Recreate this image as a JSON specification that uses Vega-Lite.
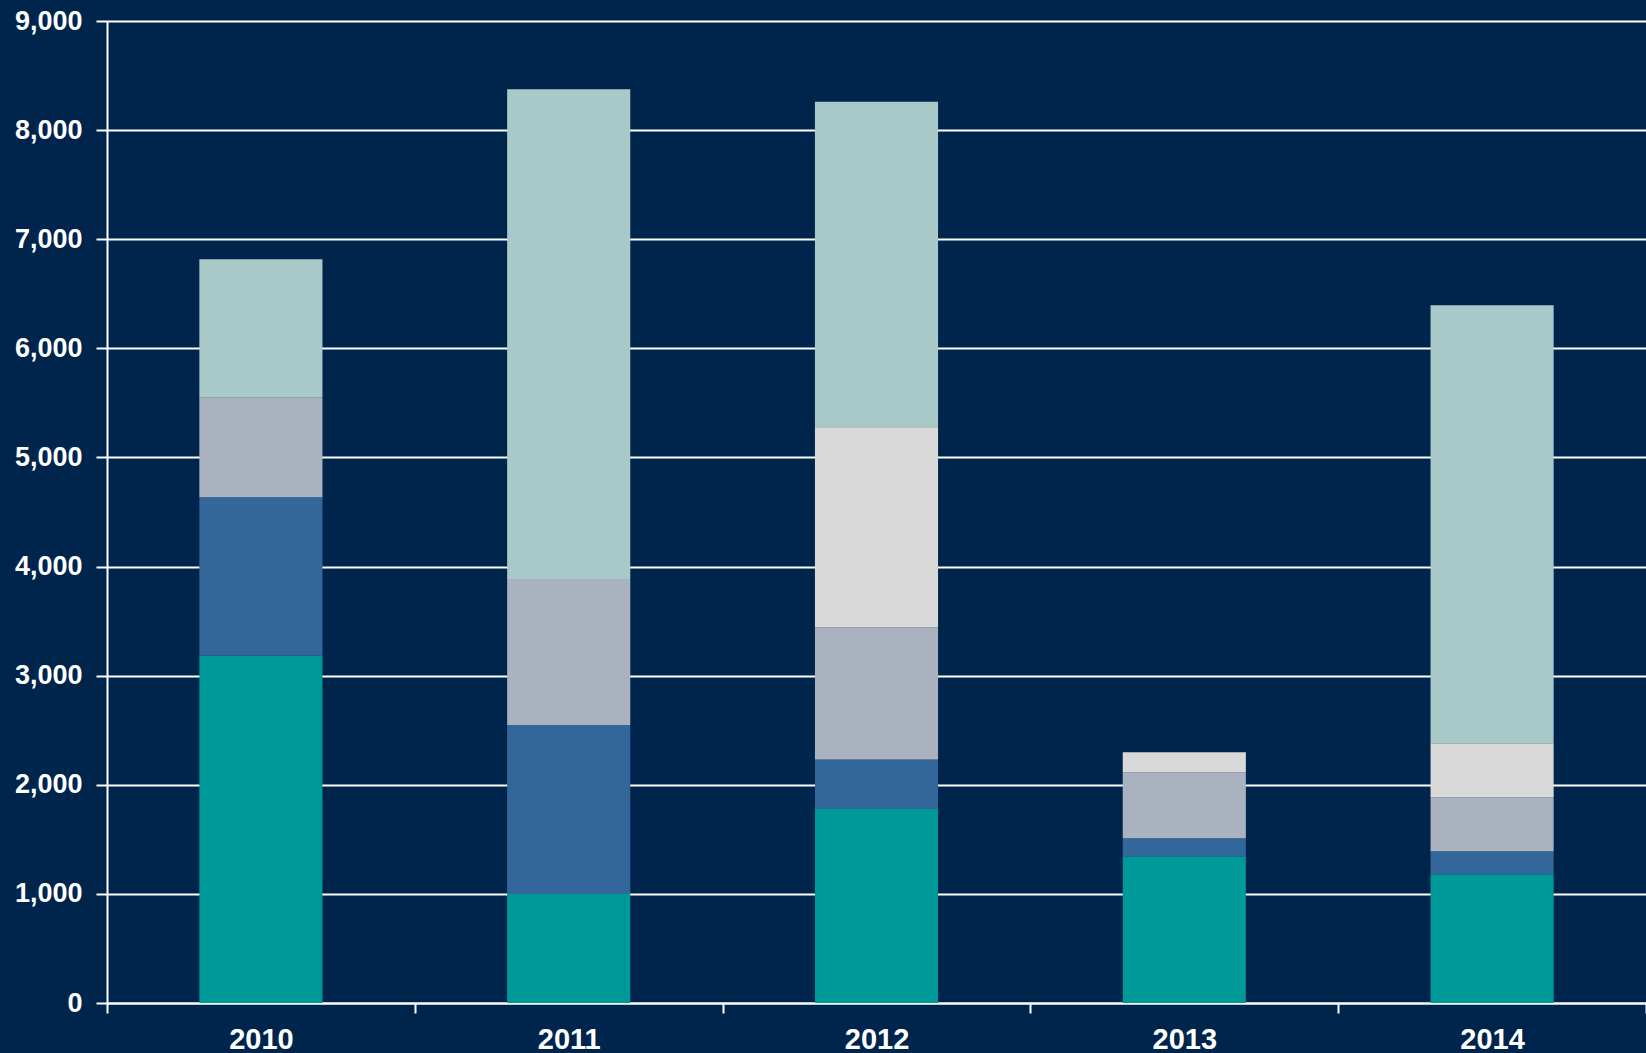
{
  "$schema": "https://vega.github.io/schema/vega-lite/v6.json",
  "width": 1539,
  "height": 982,
  "autosize": {"type": "none"},
  "padding": {"left": 107, "top": 21, "right": 0, "bottom": 50},
  "background": "#00254C",
  "config": {
    "view": {"stroke": null, "fill": "#00254C"},
    "font": "Liberation Sans"
  },
  "data": {
    "values": [
      {"year": "2010", "series": "Series 1", "value": 3183},
      {"year": "2010", "series": "Series 2", "value": 1452},
      {"year": "2010", "series": "Series 3", "value": 913},
      {"year": "2010", "series": "Series 5", "value": 1269},
      {"year": "2011", "series": "Series 1", "value": 1000},
      {"year": "2011", "series": "Series 2", "value": 1548},
      {"year": "2011", "series": "Series 3", "value": 1337},
      {"year": "2011", "series": "Series 5", "value": 4490},
      {"year": "2012", "series": "Series 1", "value": 1779},
      {"year": "2012", "series": "Series 2", "value": 452},
      {"year": "2012", "series": "Series 3", "value": 1211},
      {"year": "2012", "series": "Series 4", "value": 1827},
      {"year": "2012", "series": "Series 5", "value": 2991},
      {"year": "2013", "series": "Series 1", "value": 1344},
      {"year": "2013", "series": "Series 2", "value": 165},
      {"year": "2013", "series": "Series 3", "value": 606},
      {"year": "2013", "series": "Series 4", "value": 183},
      {"year": "2014", "series": "Series 1", "value": 1180},
      {"year": "2014", "series": "Series 2", "value": 210},
      {"year": "2014", "series": "Series 3", "value": 494},
      {"year": "2014", "series": "Series 4", "value": 497},
      {"year": "2014", "series": "Series 5", "value": 4013}
    ]
  },
  "mark": {"type": "bar", "stroke": null, "width": {"band": 0.4}},
  "encoding": {
    "x": {
      "field": "year",
      "type": "nominal",
      "scale": {"paddingInner": 0, "paddingOuter": 0},
      "axis": {
        "title": null,
        "labelAngle": 0,
        "tickBand": "extent",
        "grid": false,
        "domainColor": "#FFFFFF",
        "domainWidth": 2,
        "tickColor": "#FFFFFF",
        "tickWidth": 2,
        "tickSize": 10,
        "labelColor": "#FFFFFF",
        "labelFont": "Liberation Sans",
        "labelFontWeight": "bold",
        "labelFontSize": 29,
        "labelPadding": 12
      }
    },
    "y": {
      "field": "value",
      "type": "quantitative",
      "aggregate": "sum",
      "stack": "zero",
      "scale": {"domain": [0, 9000], "nice": false},
      "axis": {
        "title": null,
        "values": [0, 1000, 2000, 3000, 4000, 5000, 6000, 7000, 8000, 9000],
        "format": ",d",
        "grid": true,
        "gridColor": "#FFFFFF",
        "gridWidth": 2,
        "gridOpacity": 1,
        "domainColor": "#FFFFFF",
        "domainWidth": 2,
        "tickColor": "#FFFFFF",
        "tickWidth": 2,
        "tickSize": 11,
        "labelColor": "#FFFFFF",
        "labelFont": "Liberation Sans",
        "labelFontWeight": "bold",
        "labelFontSize": 27,
        "labelPadding": 14
      }
    },
    "color": {
      "field": "series",
      "type": "nominal",
      "scale": {
        "domain": ["Series 1", "Series 2", "Series 3", "Series 4", "Series 5"],
        "range": ["#009999", "#336699", "#AAB2C0", "#D9D9D9", "#A9C9C9"]
      },
      "legend": null
    },
    "order": {"field": "series", "sort": "ascending"}
  }
}
